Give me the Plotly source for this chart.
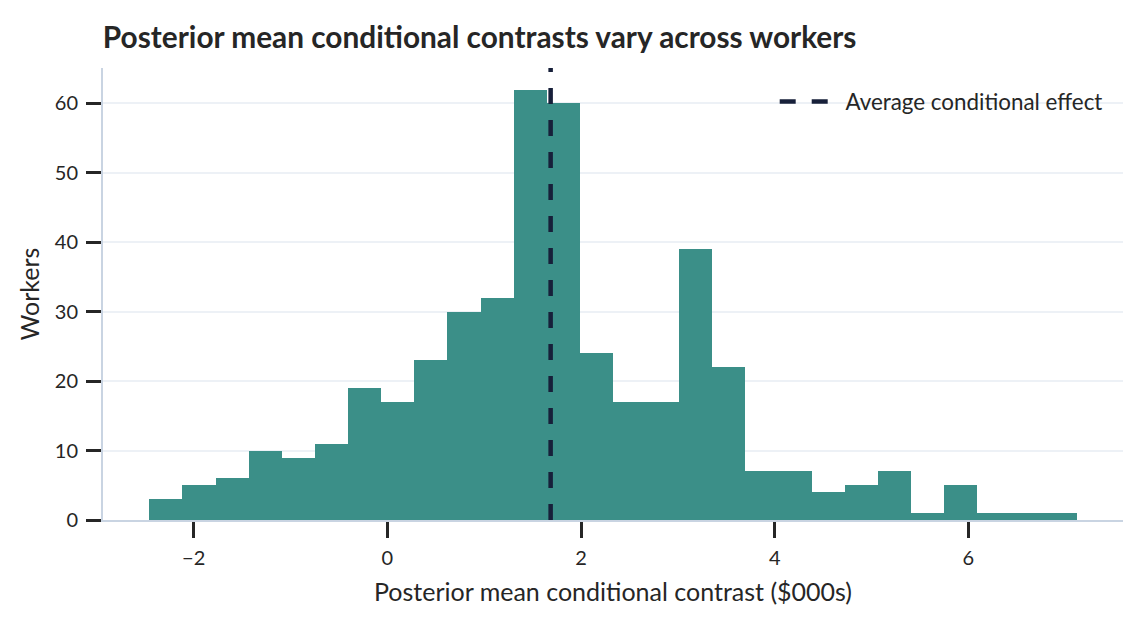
import numpy as np
import plotly.graph_objects as go

# Histogram of posterior mean conditional contrasts (counts per bin)
bin_start = -2.458
bin_width = 0.342
counts = [3, 5, 6, 10, 9, 11, 19, 17, 23, 30, 32, 62, 60, 24,
          17, 17, 39, 22, 7, 7, 4, 5, 7, 1, 5, 1, 1, 1]
avg_effect = 1.686

x_ticks = [-2, 0, 2, 4, 6]
y_ticks = [0, 10, 20, 30, 40, 50, 60]

edges = bin_start + bin_width * np.arange(len(counts) + 1)
centers = (edges[:-1] + edges[1:]) / 2
x_pad = 0.05 * (edges[-1] - edges[0])
y_top = max(counts) * 1.05

FONT = "Lato, 'Source Sans Pro', sans-serif"
TEXT = "#262626"

fig = go.Figure()

fig.add_trace(
    go.Bar(
        x=centers,
        y=counts,
        width=bin_width,
        marker=dict(color="#3b8f88", line=dict(width=0)),
        showlegend=False,
        hoverinfo="x+y",
    )
)

fig.add_trace(
    go.Scatter(
        x=[avg_effect, avg_effect],
        y=[0, y_top],
        mode="lines",
        line=dict(color="#17203a", width=4.5, dash="16px,16px"),
        name="\u00a0\u00a0Average conditional effect",
    )
)

fig.update_layout(
    width=1143,
    height=623,
    margin=dict(l=95, r=28, t=60, b=111),
    paper_bgcolor="white",
    plot_bgcolor="white",
    font=dict(family=FONT, size=20, color=TEXT),
    title=dict(
        text="<b>Posterior mean conditional contrasts vary across workers</b>",
        x=0.083,
        xanchor="left",
        y=0.952,
        yanchor="middle",
        font=dict(size=29.8, color=TEXT),
    ),
    bargap=0,
    legend=dict(
        x=0.985,
        y=0.925,
        xanchor="right",
        yanchor="middle",
        bgcolor="rgba(0,0,0,0)",
        font=dict(size=22.4, color=TEXT),
        itemwidth=50,
    ),
    xaxis=dict(
        range=[edges[0] - x_pad, edges[-1] + x_pad],
        tickvals=x_ticks,
        showgrid=False,
        zeroline=False,
        showline=True,
        linecolor="#c9d4e2",
        linewidth=2,
        ticks="outside",
        ticklen=16,
        tickwidth=3,
        tickcolor="#262626",
        ticklabelstandoff=3,
        title=dict(text="Posterior mean conditional contrast ($000s)", standoff=15,
                   font=dict(size=25)),
    ),
    yaxis=dict(
        range=[0, y_top],
        tickvals=y_ticks,
        showgrid=True,
        gridcolor="#edf1f6",
        gridwidth=2,
        zeroline=False,
        showline=True,
        linecolor="#c9d4e2",
        linewidth=2,
        ticks="outside",
        ticklen=15,
        tickwidth=3,
        tickcolor="#262626",
        ticklabelstandoff=4,
        title=dict(text="Workers", standoff=8, font=dict(size=25)),
    ),
)

fig.write_html("out.html")
